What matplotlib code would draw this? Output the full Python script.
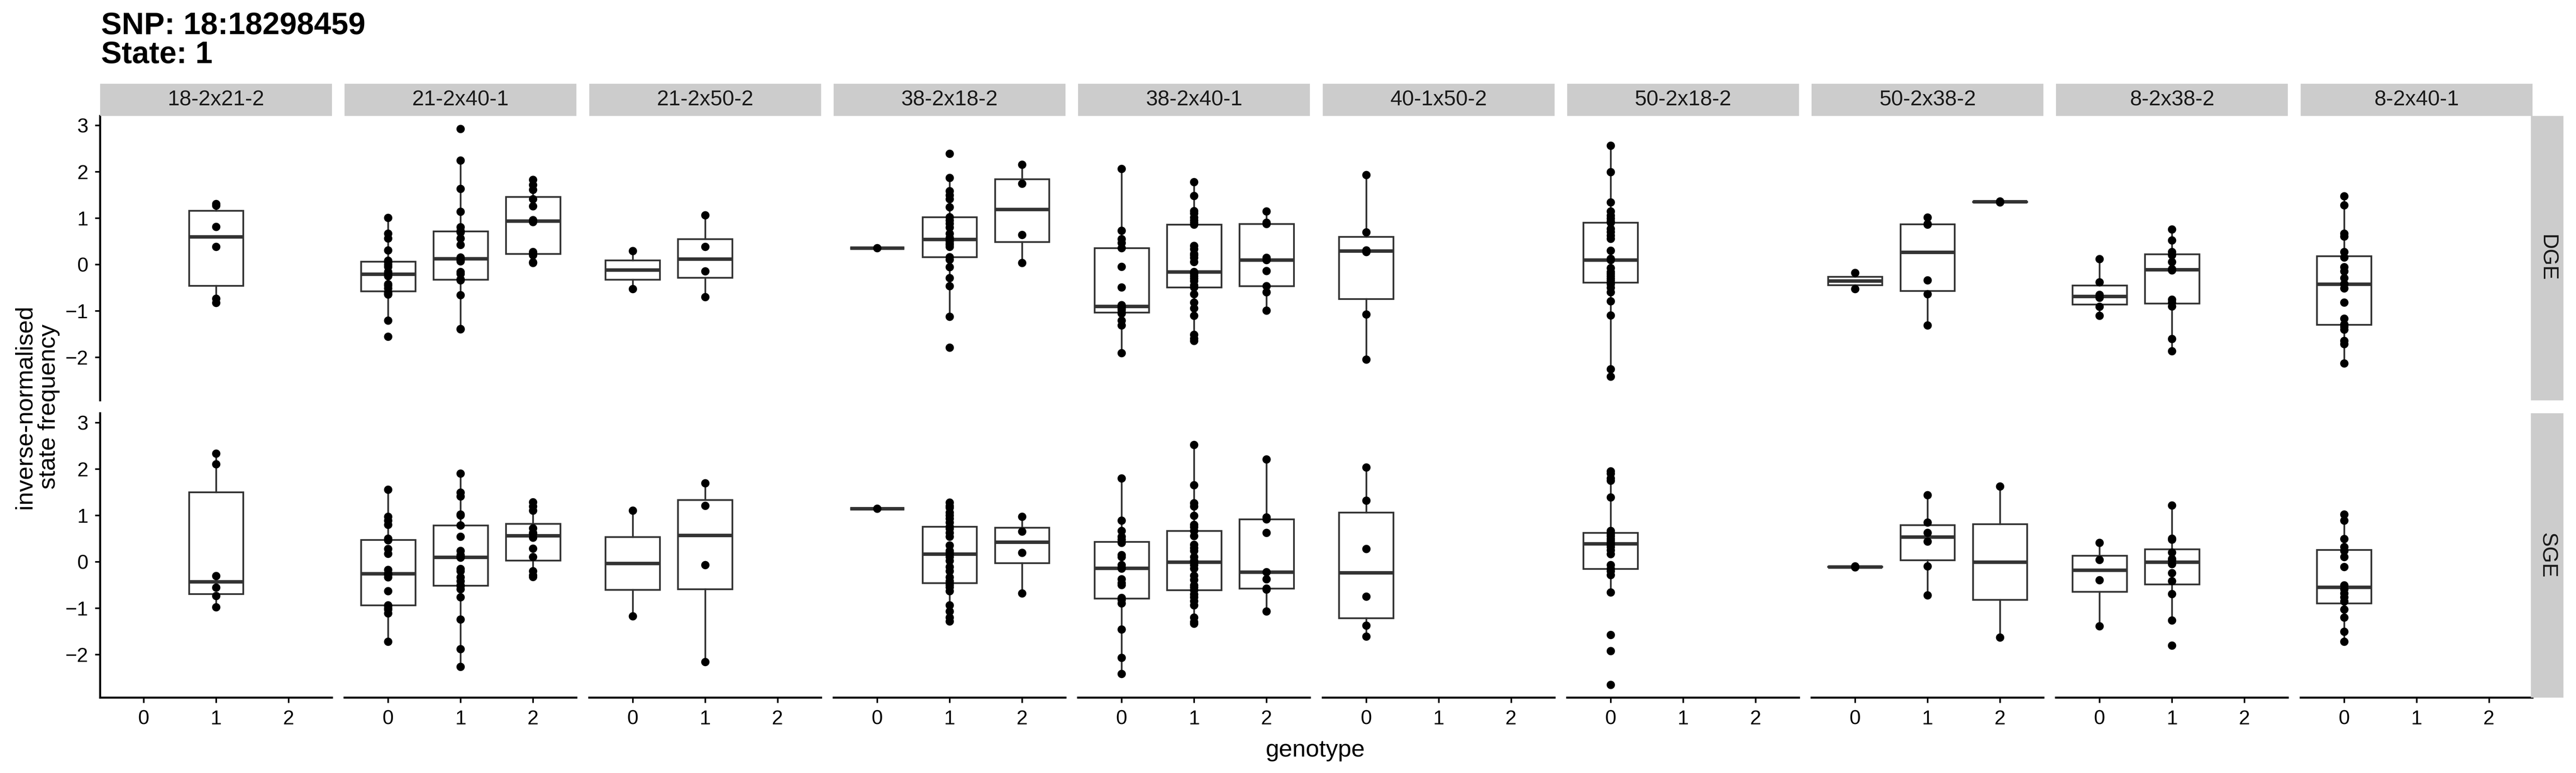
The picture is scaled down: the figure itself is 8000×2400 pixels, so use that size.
import matplotlib
matplotlib.use("Agg")
import matplotlib.pyplot as plt
import numpy as np

plt.rcParams['font.family'] = ['Liberation Sans', 'DejaVu Sans']

# facets
crosses = ["18-2x21-2", "21-2x40-1", "21-2x50-2", "38-2x18-2", "38-2x40-1",
           "40-1x50-2", "50-2x18-2", "50-2x38-2", "8-2x38-2", "8-2x40-1"]
rows = ["DGE", "SGE"]
genotypes = [0, 1, 2]

# DGE values, one list per genotype (0, 1, 2)
dge_18_2x21_2 = [[], [1.30, 1.27, 0.81, 0.38, -0.74, -0.83], []]
dge_21_2x40_1 = [
    [-1.56, -1.21, -0.65, -0.644, -0.62, -0.6, -0.513, -0.45, -0.426, -0.25, -0.225,
     -0.2, -0.164, -0.05, -0.007, 0.05, 0.06, 0.08, 0.307, 0.56, 0.665, 1.005],
    [-1.40, -1.39, -0.66, -0.34, -0.33, -0.33, -0.32, -0.2, -0.16, 0.07, 0.09, 0.12,
     0.15, 0.42, 0.56, 0.69, 0.70, 0.72, 0.80, 1.14, 1.63, 2.24, 2.92],
    [0.036, 0.05, 0.2, 0.24, 0.272, 0.918, 0.953, 1.258, 1.406, 1.607, 1.712, 1.825]]
dge_21_2x50_2 = [[-0.53, 0.29], [-0.705, -0.147, 0.377, 1.057], []]
dge_38_2x18_2 = [
    [0.35],
    [-1.796, -1.124, -0.47, -0.295, -0.06, 0.1, 0.16, 0.377, 0.42, 0.447, 0.49, 0.52,
     0.543, 0.577, 0.665, 0.796, 0.883, 0.95, 1.02, 1.232, 1.406, 1.494, 1.581, 1.869, 2.383],
    [0.036, 0.638, 1.738, 2.148]]
dge_38_2x40_1 = [
    [-1.909, -1.316, -1.211, -1.06, -1.037, -0.98, -0.95, -0.92, -0.906, -0.88, -0.496,
     -0.051, 0.35, 0.464, 0.55, 0.726, 2.061],
    [-1.647, -1.60, -1.517, -1.106, -0.949, -0.819, -0.644, -0.496, -0.45, -0.356, -0.30,
     -0.252, -0.20, -0.18, -0.164, 0.054, 0.141, 0.20, 0.228, 0.333, 0.40, 0.857, 0.90,
     0.95, 1.014, 1.101, 1.15, 1.476, 1.773],
    [-0.993, -0.6, -0.47, -0.138, 0.098, 0.141, 0.874, 0.9, 1.145]]
dge_40_1x50_2 = [[-2.049, -1.08, 0.272, 0.306, 0.691, 1.93], [], []]
dge_50_2x18_2 = [
    [-2.415, -2.258, -1.098, -0.792, -0.6, -0.5, -0.426, -0.391, -0.339, -0.3, -0.252,
     -0.2, -0.164, -0.077, 0.098, 0.12, 0.3, 0.551, 0.621, 0.7, 0.77, 0.9, 0.926, 0.988,
     1.05, 1.145, 1.337, 1.991, 2.558],
    [], []]
dge_50_2x38_2 = [[-0.53, -0.181], [-1.316, -0.644, -0.339, 0.857, 0.87, 1.014], [1.34, 1.36]]
dge_8_2x38_2 = [
    [-1.106, -0.909, -0.72, -0.656, -0.384, 0.115],
    [-1.866, -1.604, -0.906, -0.819, -0.758, -0.13, -0.1, 0.054, 0.2, 0.272, 0.516, 0.752],
    []]
dge_8_2x40_1 = [
    [-2.136, -1.717, -1.647, -1.403, -1.34, -1.29, -1.168, -0.819, -0.513, -0.426, -0.42,
     -0.295, -0.147, -0.06, 0.15, 0.272, 0.604, 0.665, 1.275, 1.467],
    [], []]

# SGE values
sge_18_2x21_2 = [[], [-0.98, -0.74, -0.56, -0.31, 2.10, 2.33], []]
sge_21_2x40_1 = [
    [-1.723, -1.114, -1.027, -1.0, -0.95, -0.94, -0.636, -0.332, -0.28, -0.262, -0.25,
     -0.175, 0.173, 0.277, 0.46, 0.5, 0.799, 0.886, 0.973, 1.555],
    [-2.262, -1.88, -1.245, -0.766, -0.593, -0.52, -0.51, -0.419, -0.332, -0.2, -0.157,
     0.09, 0.1, 0.12, 0.146, 0.233, 0.538, 0.78, 0.781, 1.0, 1.016, 1.407, 1.494, 1.903],
    [-0.33, -0.29, -0.2, 0.1, 0.28, 0.52, 0.6, 0.62, 0.72, 1.10, 1.19, 1.28]]
sge_21_2x50_2 = [[-1.175, 1.103], [-2.158, -0.071, 1.207, 1.694], []]
sge_38_2x18_2 = [
    [1.146],
    [-1.288, -1.2, -1.07, -0.94, -0.636, -0.549, -0.5, -0.462, -0.419, -0.332, -0.201,
     -0.114, 0.016, 0.103, 0.164, 0.2, 0.233, 0.35, 0.538, 0.625, 0.712, 0.755, 0.842,
     0.929, 1.0, 1.06, 1.164, 1.2, 1.277],
    [-0.68, 0.19, 0.651, 0.972]]
sge_38_2x40_1 = [
    [-2.419, -2.071, -1.462, -0.897, -0.82, -0.78, -0.5, -0.462, -0.375, -0.15, -0.13,
     -0.071, 0.1, 0.146, 0.407, 0.48, 0.538, 0.668, 0.886, 1.798],
    [-1.332, -1.30, -1.201, -0.94, -0.85, -0.766, -0.70, -0.61, -0.55, -0.506, -0.393,
     -0.30, -0.15, -0.071, -0.01, 0.016, 0.10, 0.233, 0.30, 0.364, 0.556, 0.668, 0.75,
     0.799, 0.99, 1.19, 1.26, 1.651, 2.52],
    [-1.07, -0.6, -0.575, -0.375, -0.227, 0.625, 0.912, 0.955, 2.207]]
sge_40_1x50_2 = [[-1.61, -1.375, -0.749, 0.277, 1.32, 2.033], [], []]
sge_50_2x18_2 = [
    [-2.653, -1.923, -1.575, -0.662, -0.288, -0.201, -0.158, -0.071, 0.164, 0.25, 0.32,
     0.36, 0.39, 0.407, 0.45, 0.494, 0.55, 0.581, 0.625, 0.668, 1.39, 1.75, 1.799, 1.9, 1.946],
    [], []]
sge_50_2x38_2 = [[-0.12, -0.10], [-0.723, -0.097, 0.434, 0.625, 0.842, 1.433], [-1.636, 1.624]]
sge_8_2x38_2 = [
    [-1.393, -0.4, 0.042, 0.407],
    [-1.81, -1.262, -0.697, -0.42, -0.245, -0.05, 0.03, 0.06, 0.2, 0.477, 0.5, 1.216],
    []]
sge_8_2x40_1 = [
    [-1.723, -1.506, -1.201, -1.027, -0.853, -0.766, -0.68, -0.593, -0.506, -0.114, 0.103,
     0.233, 0.32, 0.494, 0.886, 1.016],
    [], []]

dge = [dge_18_2x21_2, dge_21_2x40_1, dge_21_2x50_2, dge_38_2x18_2, dge_38_2x40_1,
       dge_40_1x50_2, dge_50_2x18_2, dge_50_2x38_2, dge_8_2x38_2, dge_8_2x40_1]
sge = [sge_18_2x21_2, sge_21_2x40_1, sge_21_2x50_2, sge_38_2x18_2, sge_38_2x40_1,
       sge_40_1x50_2, sge_50_2x18_2, sge_50_2x38_2, sge_8_2x38_2, sge_8_2x40_1]
data = [dge, sge]

# shared y range, ggplot-like 5% expansion
allv = [v for row in data for cross in row for g in cross for v in g]
lo, hi = min(allv), max(allv)
pad = 0.05 * (hi - lo)
ylim = (lo - pad, hi + pad)

W, H = 8000, 2400
fig = plt.figure(figsize=(W / 300, H / 300), dpi=300)


def px_box(x0, y0, x1, y1):
    return [x0 / W, 1 - y1 / H, (x1 - x0) / W, (y1 - y0) / H]


panel_left = 311
panel_w = 720
panel_step = 759.3
row_top = [360, 1283]
row_bot = [1243, 2166]
box_lw = 1.3
line_col = "#333333"

for r in range(2):
    for i, cross in enumerate(crosses):
        x0 = panel_left + i * panel_step
        ax = fig.add_axes(px_box(x0, row_top[r], x0 + panel_w, row_bot[r]))
        for g in genotypes:
            vals = data[r][i][g]
            if not vals:
                continue
            ax.boxplot(vals, positions=[g], widths=0.75, whis=1.5, showfliers=False,
                       showcaps=False, patch_artist=True, manage_ticks=False,
                       boxprops=dict(facecolor="white", edgecolor=line_col, linewidth=box_lw),
                       medianprops=dict(color=line_col, linewidth=box_lw * 2),
                       whiskerprops=dict(color=line_col, linewidth=box_lw))
            ax.plot([g] * len(vals), vals, "o", color="black", ms=6.2, mew=0, zorder=4)
        ax.set_xlim(-0.6, 2.6)
        ax.set_ylim(*ylim)
        for s in ["top", "right", "left", "bottom"]:
            ax.spines[s].set_visible(False)
        ax.tick_params(length=16 * 72 / 300, width=1.2, labelsize=15, pad=5,
                       colors="black")
        if i == 0:
            ax.spines["left"].set_visible(True)
            ax.spines["left"].set_linewidth(1.5)
            ax.set_yticks([-2, -1, 0, 1, 2, 3])
        else:
            ax.set_yticks([])
        if r == 1:
            ax.spines["bottom"].set_visible(True)
            ax.spines["bottom"].set_linewidth(1.5)
            ax.set_xticks(genotypes)
            ax.set_xticklabels([str(g) for g in genotypes])
        else:
            ax.set_xticks([])

        if r == 0:
            st = fig.add_axes(px_box(x0, 260, x0 + panel_w, 360))
            st.set_facecolor("#CCCCCC")
            st.set_xticks([])
            st.set_yticks([])
            for s in st.spines.values():
                s.set_visible(False)
            st.text(0.5, 0.5, cross, ha="center", va="center", fontsize=16,
                    color="#1A1A1A", transform=st.transAxes)

    rs = fig.add_axes(px_box(7860, row_top[r], 7961, row_bot[r]))
    rs.set_facecolor("#CCCCCC")
    rs.set_xticks([])
    rs.set_yticks([])
    for s in rs.spines.values():
        s.set_visible(False)
    rs.text(0.5, 0.5, rows[r], ha="center", va="center", rotation=-90, fontsize=16,
            color="#1A1A1A", transform=rs.transAxes)

fig.text(314 / W, 1 - 36 / H, "SNP: 18:18298459\nState: 1", ha="left", va="top",
         fontsize=23, fontweight="bold", linespacing=1.0)
fig.text(114 / W, 1 - 1263 / H, "inverse-normalised\nstate frequency", rotation=90,
         ha="center", va="center", fontsize=18, multialignment="center", linespacing=1.1)
fig.text(4085 / W, 1 - 2329 / H, "genotype", ha="center", va="center", fontsize=18)

fig.savefig("out.png", dpi=300, facecolor="white")
